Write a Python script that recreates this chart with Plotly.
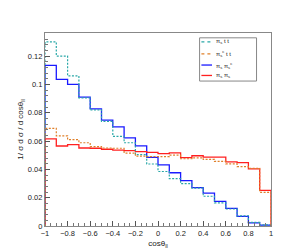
import numpy as np
import plotly.graph_objects as go

# bin edges of cos(theta_ll): 20 bins from -1 to 1
bin_lo = -1.0
bin_hi = 1.0
n_bins = 20

labels = ["π<sub>s</sub> t t", "π<sub>s</sub><sup>c</sup> t t",
          "π<sub>s</sub> π<sub>s</sub><sup>c</sup>", "π<sub>s</sub> π<sub>s</sub>"]

pis_tt = [0.130, 0.120, 0.106, 0.0905, 0.0820, 0.0739, 0.0633, 0.0588, 0.0504, 0.0438,
          0.0385, 0.0334, 0.0299, 0.0268, 0.0210, 0.0163, 0.0120, 0.0072, 0.0025, 0.0008]
pisc_tt = [0.069, 0.0637, 0.0610, 0.0588, 0.0561, 0.0551, 0.0549, 0.0515, 0.0493, 0.0490,
           0.0490, 0.0500, 0.0475, 0.0481, 0.0470, 0.0456, 0.0439, 0.0420, 0.0407, 0.0237]
pis_pisc = [0.1134, 0.1035, 0.1000, 0.0910, 0.0827, 0.0748, 0.0700, 0.0622, 0.0566, 0.0484,
            0.0431, 0.0376, 0.0321, 0.0271, 0.0232, 0.0174, 0.0124, 0.0068, 0.0022, 0.0006]
pis_pis = [0.0615, 0.0565, 0.0574, 0.0551, 0.0549, 0.0542, 0.0536, 0.0532, 0.0525, 0.0520,
           0.0511, 0.0516, 0.0483, 0.0496, 0.0487, 0.0486, 0.0453, 0.0447, 0.0403, 0.0251]

x_ticks = [-1, -0.8, -0.6, -0.4, -0.2, 0, 0.2, 0.4, 0.6, 0.8, 1]
x_ticklabels = ["−1", "−0.8", "−0.6", "−0.4", "−0.2", "0", "0.2", "0.4", "0.6", "0.8", "1"]
y_ticks = [0, 0.02, 0.04, 0.06, 0.08, 0.1, 0.12]
y_ticklabels = ["0", "0.02", "0.04", "0.06", "0.08", "0.1", "0.12"]

edges = np.linspace(bin_lo, bin_hi, n_bins + 1)

def step_xy(vals):
    xs = [edges[0]] + list(edges[:-1]) + [edges[-1], edges[-1]]
    ys = [0] + list(vals) + [vals[-1], 0]
    return xs, ys

series = [
    (pis_pisc, "#1a1aff", "solid", 1.3),
    (pis_pis, "#ff2020", "solid", 1.3),
    (pis_tt, "#2aa8a8", "2px,1.5px", 1.2),
    (pisc_tt, "#e0802a", "2px,1.5px", 1.2),
]

fig = go.Figure()
for vals, col, dash, w in series:
    xs, ys = step_xy(vals)
    fig.add_trace(go.Scatter(x=xs, y=ys, mode="lines", line=dict(color=col, dash=dash, width=w, shape="hv"),
                             showlegend=False, hoverinfo="skip"))

fam = "Liberation Sans, Arial, sans-serif"
font = dict(family=fam, size=7.5, color="#222")
tfont = dict(family=fam, size=8, color="#222")

fig.update_layout(
    width=292, height=251,
    margin=dict(l=29, r=29, t=25, b=25),
    paper_bgcolor="white", plot_bgcolor="white",
    font=font,
    xaxis=dict(range=[-1, 1], tickvals=x_ticks, ticktext=x_ticklabels, ticks="inside", ticklen=5,
               tickcolor="#555", showline=True, linecolor="#888", linewidth=1.2, mirror=True,
               showgrid=False, zeroline=False,
               minor=dict(dtick=0.05, ticks="inside", ticklen=2.5, tickcolor="#777", showgrid=False),
               title=dict(text="cosθ<sub>ll</sub>", font=tfont, standoff=3)),
    yaxis=dict(range=[0, 0.1363], tickvals=y_ticks, ticktext=y_ticklabels, ticks="inside", ticklen=5,
               tickcolor="#555", showline=True, linecolor="#888", linewidth=1.2, mirror=True,
               showgrid=False, zeroline=False,
               minor=dict(dtick=0.004, ticks="inside", ticklen=2.5, tickcolor="#777", showgrid=False),
               title=dict(text="1/ σ d σ / d cosθ<sub>ll</sub>", font=tfont, standoff=2)),
)

# legend box drawn manually (ROOT TLegend style)
fig.add_shape(type="rect", xref="paper", yref="paper", x0=0.684, x1=0.936, y0=0.751, y1=0.975,
              line=dict(color="#888", width=1), fillcolor="white", layer="above")
leg_rows = [0.954, 0.892, 0.834, 0.780]
leg_series = [(labels[0], "#2aa8a8", "dot"), (labels[1], "#e0802a", "dot"),
              (labels[2], "#1a1aff", "solid"), (labels[3], "#ff2020", "solid")]
for yy, (lab, col, dash) in zip(leg_rows, leg_series):
    fig.add_shape(type="line", xref="paper", yref="paper", x0=0.692, x1=0.739, y0=yy, y1=yy,
                  line=dict(color=col, width=1.3, dash=dash), layer="above")
    fig.add_annotation(xref="paper", yref="paper", x=0.748, y=yy, text=lab, showarrow=False,
                       xanchor="left", yanchor="middle", font=dict(family=fam, size=6, color="#222"))

fig.write_html("out.html")
